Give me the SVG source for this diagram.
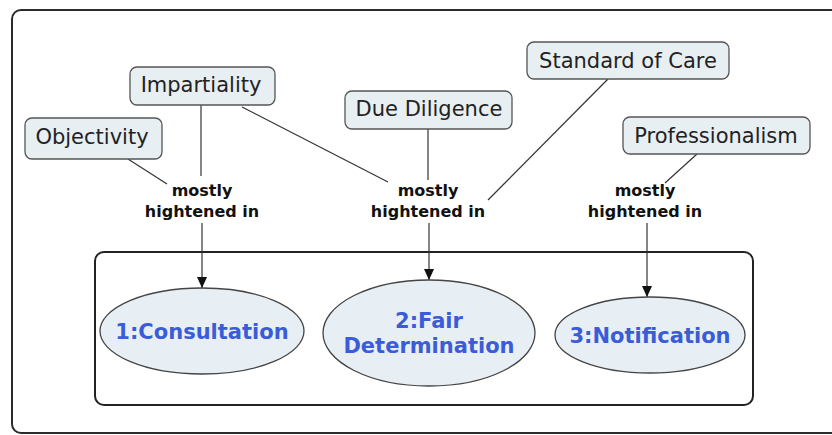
<svg xmlns="http://www.w3.org/2000/svg" width="832" height="435" viewBox="0 0 832 435">
  <style>
    .frame { fill: #ffffff; stroke: #2b2b2b; stroke-width: 2; }
    .group { fill: none; stroke: #222222; stroke-width: 2; }
    .concept rect { fill: #e8eff3; stroke: #555555; stroke-width: 1.3; }
    .concept text { font-family: "DejaVu Sans", Verdana, sans-serif; font-size: 21px; fill: #222222; text-anchor: middle; }
    .step ellipse { fill: #e8eff4; stroke: #444444; stroke-width: 1.3; }
    .step text { font-family: "DejaVu Sans", Verdana, sans-serif; font-weight: bold; font-size: 21px; fill: #3a5cd8; text-anchor: middle; }
    .link text { font-family: "DejaVu Sans", Verdana, sans-serif; font-weight: bold; font-size: 16px; fill: #111111; text-anchor: middle; }
    #connectors line { stroke: #333333; stroke-width: 1.2; }
    #connectors line.arrow { marker-end: url(#head); }
  </style>
  <defs>
    <marker id="head" viewBox="0 0 12 12" refX="12" refY="6" markerWidth="12" markerHeight="11" markerUnits="userSpaceOnUse" orient="auto">
      <path d="M0,0.5 L12,6 L0,11.5 Z" fill="#111111"/>
    </marker>
  </defs>

  <!-- outer map frame -->
  <rect class="frame" x="12" y="10" width="830" height="423" rx="9"/>

  <!-- grouping box around the three steps -->
  <rect id="steps-box" class="group" x="95" y="252" width="658" height="153" rx="9"/>

  <!-- connectors -->
  <g id="connectors">
    <line x1="128" y1="159" x2="167" y2="184"/>
    <line x1="201" y1="105" x2="201" y2="176"/>
    <line x1="242" y1="107" x2="388" y2="182"/>
    <line x1="428" y1="129" x2="428" y2="180"/>
    <line x1="608" y1="79" x2="488" y2="200"/>
    <line x1="697" y1="154" x2="665" y2="183"/>
    <line class="arrow" x1="202" y1="223" x2="202" y2="288"/>
    <line class="arrow" x1="429" y1="223" x2="429" y2="280"/>
    <line class="arrow" x1="647" y1="223" x2="647" y2="297"/>
  </g>

  <!-- concepts -->
  <g id="objectivity" class="concept">
    <rect x="25" y="118" width="137" height="41" rx="7"/>
    <text x="92" y="144">Objectivity</text>
  </g>
  <g id="impartiality" class="concept">
    <rect x="130" y="67" width="145" height="38" rx="7"/>
    <text x="201" y="92">Impartiality</text>
  </g>
  <g id="due-diligence" class="concept">
    <rect x="345" y="91" width="167" height="38" rx="7"/>
    <text x="429" y="116">Due Diligence</text>
  </g>
  <g id="standard-of-care" class="concept">
    <rect x="527" y="42" width="202" height="37" rx="7"/>
    <text x="628" y="68">Standard of Care</text>
  </g>
  <g id="professionalism" class="concept">
    <rect x="623" y="117" width="187" height="37" rx="7"/>
    <text x="716" y="143">Professionalism</text>
  </g>

  <!-- linking phrases -->
  <g id="link-1" class="link">
    <text x="202" y="196">mostly</text>
    <text x="202" y="217">hightened in</text>
  </g>
  <g id="link-2" class="link">
    <text x="428" y="196">mostly</text>
    <text x="428" y="217">hightened in</text>
  </g>
  <g id="link-3" class="link">
    <text x="645" y="196">mostly</text>
    <text x="645" y="217">hightened in</text>
  </g>

  <!-- steps -->
  <g id="consultation" class="step">
    <ellipse cx="202" cy="331" rx="102" ry="43"/>
    <text x="202" y="339">1:Consultation</text>
  </g>
  <g id="fair-determination" class="step">
    <ellipse cx="429" cy="333" rx="106" ry="53"/>
    <text x="429" y="328">2:Fair</text>
    <text x="429" y="353">Determination</text>
  </g>
  <g id="notification" class="step">
    <ellipse cx="650" cy="335" rx="95" ry="38"/>
    <text x="650" y="343">3:Notification</text>
  </g>
</svg>
